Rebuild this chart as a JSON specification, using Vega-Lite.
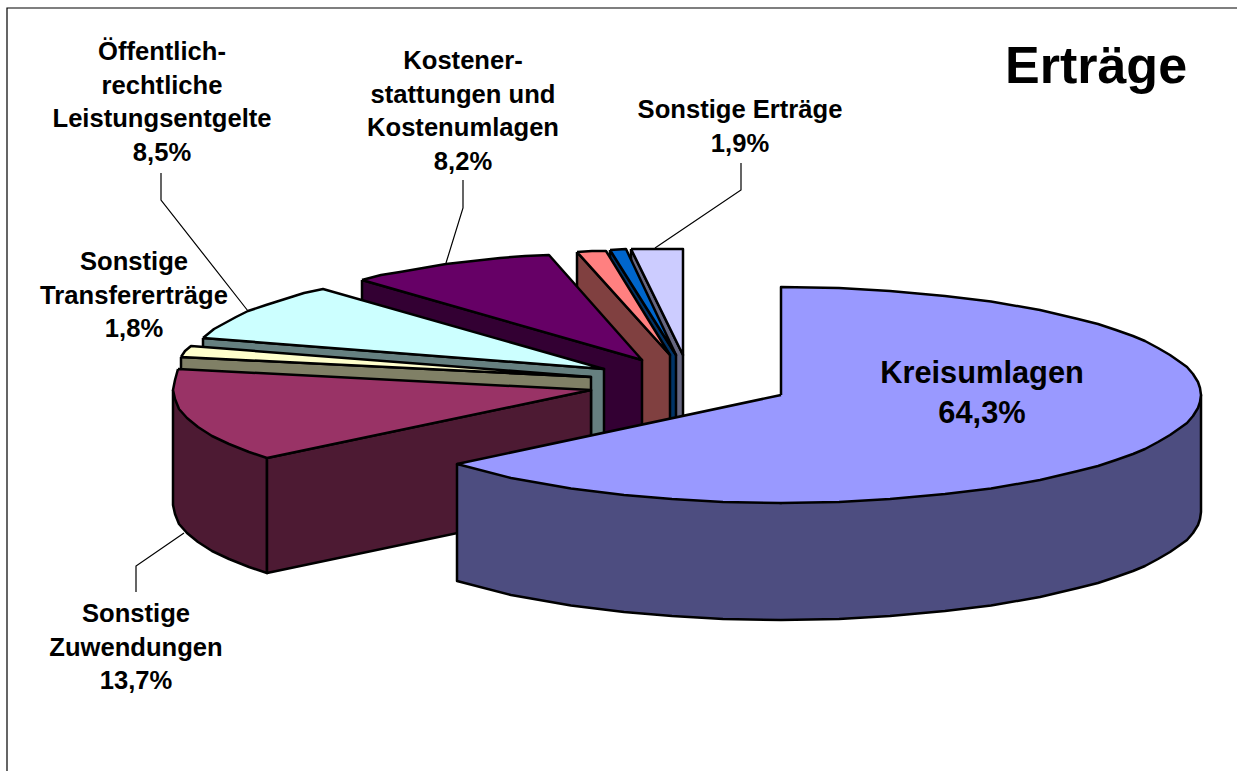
{"$schema":"https://vega.github.io/schema/vega-lite/v6.json","width":1237,"height":771,"padding":0,"autosize":"none","background":"white","view":{"stroke":null},
"datasets":{"faces":[
{"face":"erg_side","i":1,"x":631,"y":249},{"face":"erg_side","i":2,"x":683,"y":355},{"face":"erg_side","i":3,"x":683,"y":470},{"face":"erg_side","i":4,"x":631,"y":364},{"face":"erg_side","i":5,"x":631,"y":249},
{"face":"erg_top","i":1,"x":631,"y":249},{"face":"erg_top","i":2,"x":657,"y":249},{"face":"erg_top","i":3,"x":683,"y":249},{"face":"erg_top","i":4,"x":683,"y":355},{"face":"erg_top","i":5,"x":631,"y":249},
{"face":"blue_side","i":1,"x":610,"y":250},{"face":"blue_side","i":2,"x":676,"y":355},{"face":"blue_side","i":3,"x":676,"y":470},{"face":"blue_side","i":4,"x":610,"y":365},{"face":"blue_side","i":5,"x":610,"y":250},
{"face":"blue_top","i":1,"x":610,"y":250},{"face":"blue_top","i":2,"x":626,"y":249},{"face":"blue_top","i":3,"x":676,"y":355},{"face":"blue_top","i":4,"x":610,"y":250},
{"face":"pink_side","i":1,"x":577,"y":252},{"face":"pink_side","i":2,"x":670,"y":355},{"face":"pink_side","i":3,"x":670,"y":470},{"face":"pink_side","i":4,"x":577,"y":367},{"face":"pink_side","i":5,"x":577,"y":252},
{"face":"pink_top","i":1,"x":577,"y":252},{"face":"pink_top","i":2,"x":592,"y":251},{"face":"pink_top","i":3,"x":606,"y":251},{"face":"pink_top","i":4,"x":670,"y":355},{"face":"pink_top","i":5,"x":577,"y":252},
{"face":"purple_side","i":1,"x":362,"y":280},{"face":"purple_side","i":2,"x":642,"y":360},{"face":"purple_side","i":3,"x":642,"y":475},{"face":"purple_side","i":4,"x":362,"y":395},{"face":"purple_side","i":5,"x":362,"y":280},
{"face":"purple_top","i":1,"x":362,"y":280},{"face":"purple_top","i":2,"x":381,"y":275},{"face":"purple_top","i":3,"x":400,"y":272},{"face":"purple_top","i":4,"x":423,"y":268},{"face":"purple_top","i":5,"x":446,"y":264},{"face":"purple_top","i":6,"x":473,"y":261},{"face":"purple_top","i":7,"x":500,"y":258},{"face":"purple_top","i":8,"x":525,"y":256},{"face":"purple_top","i":9,"x":549,"y":255},{"face":"purple_top","i":10,"x":642,"y":360},{"face":"purple_top","i":11,"x":362,"y":280},
{"face":"cyan_side","i":1,"x":203,"y":338},{"face":"cyan_side","i":2,"x":604,"y":369},{"face":"cyan_side","i":3,"x":604,"y":484},{"face":"cyan_side","i":4,"x":203,"y":453},{"face":"cyan_side","i":5,"x":203,"y":338},
{"face":"cyan_top","i":1,"x":203,"y":338},{"face":"cyan_top","i":2,"x":214,"y":329},{"face":"cyan_top","i":3,"x":225,"y":323},{"face":"cyan_top","i":4,"x":236,"y":317},{"face":"cyan_top","i":5,"x":248,"y":311},{"face":"cyan_top","i":6,"x":266,"y":305},{"face":"cyan_top","i":7,"x":285,"y":299},{"face":"cyan_top","i":8,"x":304,"y":293},{"face":"cyan_top","i":9,"x":323,"y":289},{"face":"cyan_top","i":10,"x":604,"y":369},{"face":"cyan_top","i":11,"x":203,"y":338},
{"face":"yel_side","i":1,"x":181,"y":357},{"face":"yel_side","i":2,"x":591,"y":377},{"face":"yel_side","i":3,"x":591,"y":492},{"face":"yel_side","i":4,"x":181,"y":472},{"face":"yel_side","i":5,"x":181,"y":357},
{"face":"yel_top","i":1,"x":181,"y":357},{"face":"yel_top","i":2,"x":185,"y":351},{"face":"yel_top","i":3,"x":191,"y":346},{"face":"yel_top","i":4,"x":591,"y":377},{"face":"yel_top","i":5,"x":181,"y":357},
{"face":"red_side","i":1,"x":173,"y":390},{"face":"red_side","i":2,"x":173,"y":505},{"face":"red_side","i":3,"x":175,"y":514},{"face":"red_side","i":4,"x":179,"y":524},{"face":"red_side","i":5,"x":187,"y":533},{"face":"red_side","i":6,"x":198,"y":542},{"face":"red_side","i":7,"x":212,"y":551},{"face":"red_side","i":8,"x":229,"y":559},{"face":"red_side","i":9,"x":249,"y":567},{"face":"red_side","i":10,"x":267,"y":573},{"face":"red_side","i":11,"x":267,"y":458},{"face":"red_side","i":12,"x":173,"y":390},
{"face":"red_front","i":1,"x":267,"y":458},{"face":"red_front","i":2,"x":591,"y":390},{"face":"red_front","i":3,"x":591,"y":505},{"face":"red_front","i":4,"x":267,"y":573},{"face":"red_front","i":5,"x":267,"y":458},
{"face":"red_top","i":1,"x":178,"y":369},{"face":"red_top","i":2,"x":175,"y":380},{"face":"red_top","i":3,"x":173,"y":390},{"face":"red_top","i":4,"x":175,"y":399},{"face":"red_top","i":5,"x":179,"y":409},{"face":"red_top","i":6,"x":187,"y":418},{"face":"red_top","i":7,"x":198,"y":427},{"face":"red_top","i":8,"x":212,"y":436},{"face":"red_top","i":9,"x":229,"y":444},{"face":"red_top","i":10,"x":249,"y":452},{"face":"red_top","i":11,"x":267,"y":458},{"face":"red_top","i":12,"x":591,"y":390},{"face":"red_top","i":13,"x":178,"y":369},
{"face":"big_side","i":1,"x":457,"y":464},{"face":"big_side","i":2,"x":457,"y":581},{"face":"big_side","i":3,"x":511,"y":595},{"face":"big_side","i":4,"x":571,"y":605.5},{"face":"big_side","i":5,"x":624,"y":612},{"face":"big_side","i":6,"x":672,"y":616},{"face":"big_side","i":7,"x":723,"y":619},{"face":"big_side","i":8,"x":781,"y":620},{"face":"big_side","i":9,"x":839,"y":619},{"face":"big_side","i":10,"x":890,"y":616},{"face":"big_side","i":11,"x":945,"y":611},{"face":"big_side","i":12,"x":991,"y":605.5},{"face":"big_side","i":13,"x":1040,"y":597},{"face":"big_side","i":14,"x":1078,"y":588},{"face":"big_side","i":15,"x":1098,"y":583},{"face":"big_side","i":16,"x":1116,"y":577},{"face":"big_side","i":17,"x":1133,"y":571},{"face":"big_side","i":18,"x":1145,"y":566},{"face":"big_side","i":19,"x":1158,"y":559},{"face":"big_side","i":20,"x":1170,"y":552},{"face":"big_side","i":21,"x":1180,"y":545},{"face":"big_side","i":22,"x":1187,"y":540},{"face":"big_side","i":23,"x":1193,"y":533},{"face":"big_side","i":24,"x":1198,"y":525},{"face":"big_side","i":25,"x":1200,"y":519},{"face":"big_side","i":26,"x":1201,"y":512},{"face":"big_side","i":27,"x":1201,"y":395},{"face":"big_side","i":28,"x":781,"y":503},{"face":"big_side","i":29,"x":457,"y":464},
{"face":"big_top","i":1,"x":781,"y":395},{"face":"big_top","i":2,"x":457,"y":464},{"face":"big_top","i":3,"x":511,"y":478},{"face":"big_top","i":4,"x":571,"y":488.5},{"face":"big_top","i":5,"x":624,"y":495},{"face":"big_top","i":6,"x":672,"y":499},{"face":"big_top","i":7,"x":723,"y":502},{"face":"big_top","i":8,"x":781,"y":503},{"face":"big_top","i":9,"x":839,"y":502},{"face":"big_top","i":10,"x":890,"y":499},{"face":"big_top","i":11,"x":945,"y":494},{"face":"big_top","i":12,"x":991,"y":488.5},{"face":"big_top","i":13,"x":1040,"y":480},{"face":"big_top","i":14,"x":1078,"y":471},{"face":"big_top","i":15,"x":1098,"y":466},{"face":"big_top","i":16,"x":1116,"y":460},{"face":"big_top","i":17,"x":1133,"y":454},{"face":"big_top","i":18,"x":1145,"y":449},{"face":"big_top","i":19,"x":1158,"y":442},{"face":"big_top","i":20,"x":1170,"y":435},{"face":"big_top","i":21,"x":1180,"y":428},{"face":"big_top","i":22,"x":1187,"y":423},{"face":"big_top","i":23,"x":1193,"y":416},{"face":"big_top","i":24,"x":1198,"y":408},{"face":"big_top","i":25,"x":1200,"y":402},{"face":"big_top","i":26,"x":1201,"y":395},{"face":"big_top","i":27,"x":1200,"y":388},{"face":"big_top","i":28,"x":1198,"y":382},{"face":"big_top","i":29,"x":1193,"y":374},{"face":"big_top","i":30,"x":1187,"y":367},{"face":"big_top","i":31,"x":1180,"y":362},{"face":"big_top","i":32,"x":1170,"y":355},{"face":"big_top","i":33,"x":1158,"y":348},{"face":"big_top","i":34,"x":1145,"y":341},{"face":"big_top","i":35,"x":1133,"y":336},{"face":"big_top","i":36,"x":1116,"y":330},{"face":"big_top","i":37,"x":1098,"y":324},{"face":"big_top","i":38,"x":1078,"y":319},{"face":"big_top","i":39,"x":1040,"y":310},{"face":"big_top","i":40,"x":991,"y":301.5},{"face":"big_top","i":41,"x":945,"y":296},{"face":"big_top","i":42,"x":890,"y":291},{"face":"big_top","i":43,"x":839,"y":288},{"face":"big_top","i":44,"x":781,"y":287},{"face":"big_top","i":45,"x":781,"y":395}
],
"leaders":[
{"leader":"frame","i":1,"x":7,"y":771},{"leader":"frame","i":2,"x":7,"y":8},{"leader":"frame","i":3,"x":1237,"y":8},
{"leader":"erg","i":1,"x":741,"y":163},{"leader":"erg","i":2,"x":741,"y":190},{"leader":"erg","i":3,"x":655,"y":248},
{"leader":"kost","i":1,"x":463,"y":180},{"leader":"kost","i":2,"x":463,"y":208},{"leader":"kost","i":3,"x":446,"y":263},
{"leader":"oeff","i":1,"x":161,"y":173},{"leader":"oeff","i":2,"x":161,"y":200},{"leader":"oeff","i":3,"x":248,"y":311},
{"leader":"zuw","i":1,"x":136,"y":592},{"leader":"zuw","i":2,"x":136,"y":566},{"leader":"zuw","i":3,"x":184,"y":533}
]},
"encoding":{
"x":{"field":"x","type":"quantitative","scale":{"domain":[0,1237],"nice":false,"zero":false},"axis":null},
"y":{"field":"y","type":"quantitative","scale":{"domain":[771,0],"nice":false,"zero":false},"axis":null}},
"layer":[
{"data":{"name":"leaders"},"mark":{"type":"line","stroke":"black","strokeWidth":1.2,"clip":false},"encoding":{"detail":{"field":"leader"},"order":{"field":"i","type":"quantitative"}}},
{"data":{"name":"faces"},"mark":{"type":"line","stroke":"black","strokeWidth":2.5,"strokeJoin":"round"},"encoding":{
"detail":{"field":"face"},
"order":{"field":"i","type":"quantitative"},
"fill":{"field":"face","type":"nominal","legend":null,"scale":{"domain":["erg_side","erg_top","blue_side","blue_top","pink_side","pink_top","purple_side","purple_top","cyan_side","cyan_top","yel_side","yel_top","red_side","red_front","red_top","big_side","big_top"],"range":["#666680","#CCCCFF","#003366","#0066CC","#804040","#FF8080","#330033","#660066","#668080","#CCFFFF","#808066","#FFFFCC","#4D1A33","#4D1A33","#993366","#4D4D80","#9999FF"]}}}},
{"data":{"values":[
{"label":"Öffentlich-|rechtliche|Leistungsentgelte|8,5%","x":162,"y":52},
{"label":"Kostener-|stattungen und|Kostenumlagen|8,2%","x":463,"y":61},
{"label":"Sonstige Erträge|1,9%","x":740,"y":110},
{"label":"Sonstige|Transfererträge|1,8%","x":134,"y":262},
{"label":"Sonstige|Zuwendungen|13,7%","x":136,"y":614}]},
"mark":{"type":"text","font":"Liberation Sans","fontWeight":"bold","fontSize":25.6,"lineBreak":"|","lineHeight":33.5,"baseline":"middle","align":"center","color":"black"},
"encoding":{"text":{"field":"label"}}},
{"data":{"values":[{"label":"Kreisumlagen|64,3%","x":982,"y":374}]},
"mark":{"type":"text","font":"Liberation Sans","fontWeight":"bold","fontSize":30.8,"lineBreak":"|","lineHeight":40,"baseline":"middle","align":"center","color":"black"},
"encoding":{"text":{"field":"label"}}},
{"data":{"values":[{"label":"Erträge","x":1096,"y":67}]},
"mark":{"type":"text","font":"Liberation Sans","fontWeight":"bold","fontSize":52,"baseline":"middle","align":"center","color":"black"},
"encoding":{"text":{"field":"label"}}}
]}
